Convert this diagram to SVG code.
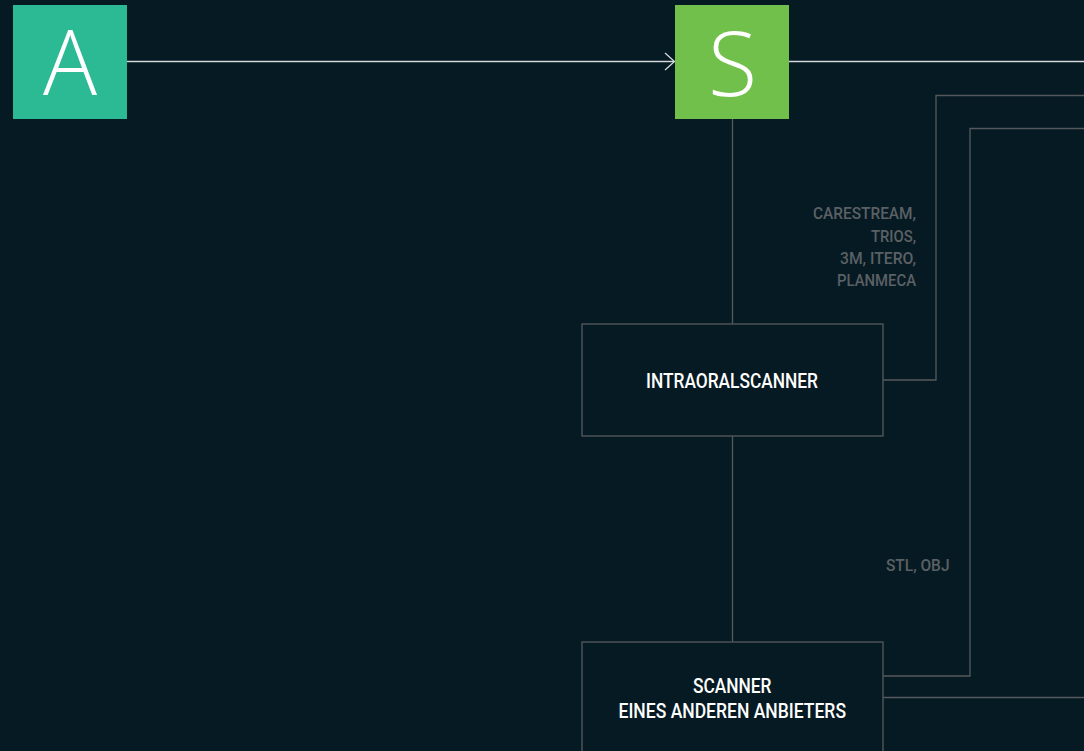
<svg xmlns="http://www.w3.org/2000/svg" width="1084" height="751" viewBox="0 0 1084 751">
<defs>
<style>
.bg{fill:#061a23}
.letter{font-family:"Open Sans","Liberation Sans",sans-serif;font-weight:300;font-size:90px;fill:#ffffff;text-anchor:middle}
.box{fill:#061a23;stroke:#55595c;stroke-width:1.3}
.lbl{font-family:Roboto,"Liberation Sans",Arial,sans-serif;font-weight:500;font-size:21px;fill:#ffffff}
.note{font-family:Roboto,"Liberation Sans",Arial,sans-serif;font-weight:500;font-size:17px;fill:#5b6064}
.wire{fill:none;stroke:#55595c;stroke-width:1.3}
.main{fill:none;stroke:#d3d7d9;stroke-width:1.3}
</style>
</defs>
<rect class="bg" x="0" y="0" width="1084" height="751"/>
<g id="connectors">
<line class="main" x1="127" y1="61.5" x2="674" y2="61.5"/>
<polyline class="main" points="665,53 674.5,61.5 665,70"/>
<line class="main" x1="789" y1="61.5" x2="1084" y2="61.5"/>
<line class="wire" x1="732.5" y1="119" x2="732.5" y2="324"/>
<line class="wire" x1="732.5" y1="436" x2="732.5" y2="642"/>
<polyline class="wire" points="1084,95.5 936,95.5 936,380 883,380"/>
<polyline class="wire" points="1084,128.5 970,128.5 970,676 883,676"/>
<line class="wire" x1="883" y1="697.5" x2="1084" y2="697.5"/>
<g id="label-scanners">
<text class="note" x="813" y="219" textLength="103" lengthAdjust="spacingAndGlyphs">CARESTREAM,</text>
<text class="note" x="871" y="241.5" textLength="45" lengthAdjust="spacingAndGlyphs">TRIOS,</text>
<text class="note" x="840" y="264" textLength="76" lengthAdjust="spacingAndGlyphs">3M, ITERO,</text>
<text class="note" x="837" y="286" textLength="79" lengthAdjust="spacingAndGlyphs">PLANMECA</text>
</g>
<text id="label-formats" class="note" x="886" y="570.5" textLength="63.5" lengthAdjust="spacingAndGlyphs">STL, OBJ</text>
</g>
<g id="node-a">
<rect x="13" y="5" width="114" height="114" fill="#2bba94"/>
<text class="letter" x="70" y="95">A</text>
</g>
<g id="node-s">
<rect x="675" y="5" width="114" height="114" fill="#72c04c"/>
<text class="letter" x="732.5" y="96">S</text>
</g>
<g id="node-intraoral">
<rect class="box" x="582" y="324" width="301" height="112"/>
<text class="lbl" x="646" y="388" textLength="172" lengthAdjust="spacingAndGlyphs">INTRAORALSCANNER</text>
</g>
<g id="node-scanner">
<rect class="box" x="582" y="642" width="301" height="140"/>
<text class="lbl" x="693" y="693" textLength="78.5" lengthAdjust="spacingAndGlyphs">SCANNER</text>
<text class="lbl" x="618.5" y="718" textLength="227.5" lengthAdjust="spacingAndGlyphs">EINES ANDEREN ANBIETERS</text>
</g>
</svg>
